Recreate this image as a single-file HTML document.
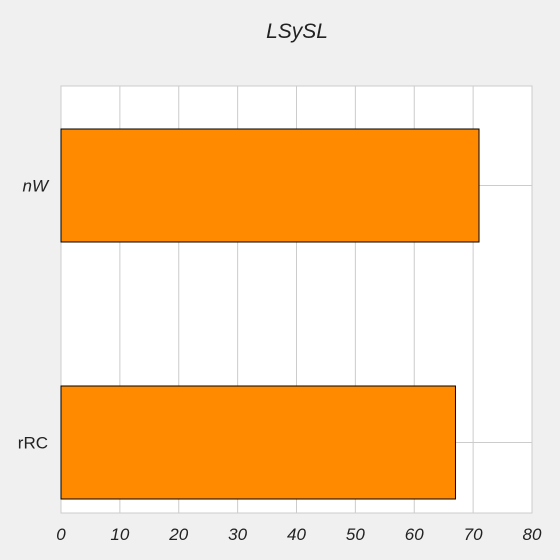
<!DOCTYPE html>
<html><head><meta charset="utf-8"><style>
body{margin:0;background:#f0f0f0;}
svg{display:block;font-family:"Liberation Sans",sans-serif;}
</style></head><body>
<svg id="c" width="560" height="560">
<text x="297" y="38" text-anchor="middle" font-size="21" font-style="italic" fill="#222">LSySL</text>
</svg>
<script>
const categories = ["nW", "rRC"];
const values = [71, 67];
const xTicks = [0, 10, 20, 30, 40, 50, 60, 70, 80];
const italicLabels = [true, false];

const svg = document.getElementById('c');
const NS = 'http://www.w3.org/2000/svg';
const L = 61, R = 532, T = 86, B = 513, XMAX = 80;
const x = v => L + (R - L) * v / XMAX;
const step = 257, firstC = 185.5;
const yc = i => firstC + step * i;
function mk(tag, attrs) { const e = document.createElementNS(NS, tag); for (const k in attrs) e.setAttribute(k, attrs[k]); svg.appendChild(e); return e; }

const bg = mk('rect', {x: L, y: T, width: R - L, height: B - T, fill: '#fff', stroke: '#ccc'});



xTicks.forEach(t => {
  const g = mk('line', {x1: x(t), x2: x(t), y1: T, y2: B, stroke: '#ccc'});
  
  
  const tx = mk('text', {x: x(t), y: 540, 'text-anchor': 'middle', 'font-size': 17, 'font-style': 'italic', fill: '#222'});
  tx.textContent = t;
  
  
});
categories.forEach((c, i) => {
  const g = mk('line', {x1: L, x2: R, y1: yc(i), y2: yc(i), stroke: '#ccc'});
  
  
});
categories.forEach((c, i) => {
  const h = 113;
  const r = mk('rect', {x: x(0), y: yc(i) - h / 2, width: x(values[i]) - x(0), height: h, fill: '#ff8a00', stroke: '#000', 'stroke-width': 1});
  
  
  const t = mk('text', {x: 48, y: yc(i) + 6, 'text-anchor': 'end', 'font-size': 17, fill: '#222'});
  if (italicLabels[i]) t.setAttribute('font-style', 'italic');
  t.textContent = c;
  
  
});
</script>
</body></html>
